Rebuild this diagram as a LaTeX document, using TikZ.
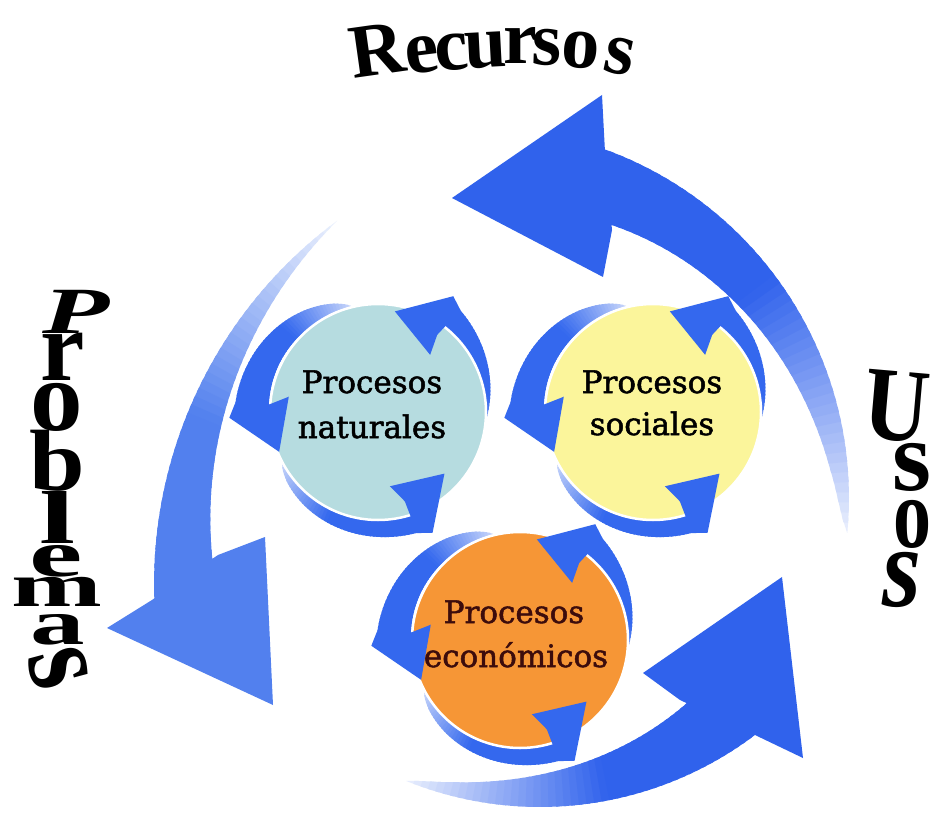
\documentclass[tikz,border=0pt]{standalone}
\usepackage{fontspec}
\setmainfont{Liberation Serif}
\newfontfamily\procfont{DejaVu Serif}[FakeBold=1.6]
\definecolor{bigblue}{RGB}{48,98,236}
\definecolor{leftblue}{RGB}{82,128,238}
\definecolor{smallblue}{RGB}{52,104,238}
\definecolor{natcol}{RGB}{182,220,224}
\definecolor{soccol}{RGB}{251,245,155}
\definecolor{ecocol}{RGB}{246,150,54}
\definecolor{ecotext}{RGB}{60,12,12}
% crescent shaft, outer edge fixed: #1 cx, #2 cy, #3 outer radius, #4 width at head, #5 tail angle, #6 end angle, #7 taper exponent, #8 colour
\newcommand{\shaftarc}[8]{%
  \foreach \i in {0,...,47}{%
    \pgfmathsetmacro{\sA}{(#5)+((#6)-(#5))*\i/48}%
    \pgfmathsetmacro{\sB}{(#5)+((#6)-(#5))*(\i+1.5)/48}%
    \pgfmathsetmacro{\rA}{(#3)-(#4)*((\i+0.01)/48)^(#7)}%
    \pgfmathsetmacro{\rB}{(#3)-(#4)*((\i+1.5)/48)^(#7)}%
    \pgfmathsetmacro{\pc}{min(100,12+160*\i/48)}%
    \fill[#8!\pc!white] ({#1+(#3)*cos(\sA)},{#2-(#3)*sin(\sA)}) -- ({#1+(#3)*cos(\sB)},{#2-(#3)*sin(\sB)}) -- ({#1+\rB*cos(\sB)},{#2-\rB*sin(\sB)}) -- ({#1+\rA*cos(\sA)},{#2-\rA*sin(\sA)}) -- cycle;
  }%
}
% crescent shaft, inner edge fixed: #3 inner radius, #4 width at head
\newcommand{\shaftout}[8]{%
  \foreach \i in {0,...,47}{%
    \pgfmathsetmacro{\sA}{(#5)+((#6)-(#5))*\i/48}%
    \pgfmathsetmacro{\sB}{(#5)+((#6)-(#5))*(\i+1.5)/48}%
    \pgfmathsetmacro{\rA}{(#3)+(#4)*((\i+0.01)/48)^(#7)}%
    \pgfmathsetmacro{\rB}{(#3)+(#4)*((\i+1.5)/48)^(#7)}%
    \pgfmathsetmacro{\pc}{min(100,25+160*\i/48)}%
    \fill[#8!\pc!white] ({#1+(#3)*cos(\sA)},{#2-(#3)*sin(\sA)}) -- ({#1+(#3)*cos(\sB)},{#2-(#3)*sin(\sB)}) -- ({#1+\rB*cos(\sB)},{#2-\rB*sin(\sB)}) -- ({#1+\rA*cos(\sA)},{#2-\rA*sin(\sA)}) -- cycle;
  }%
}
% small cycle arrow: #1 cx, #2 cy, #3 base angle of head
\newcommand{\smallshaft}[3]{\shaftout{#1}{#2}{100}{34}{(#3)-80}{(#3)+1}{0.6}{smallblue}}
\newcommand{\smallhead}[3]{%
  \fill[smallblue] ({#1+134*cos(#3)},{#2-134*sin(#3)}) -- ({#1+140*cos(#3+6)},{#2-140*sin(#3+6)}) -- ({#1+100*cos(#3+28)},{#2-100*sin(#3+28)}) -- ({#1+81*cos(#3-6)},{#2-81*sin(#3-6)}) -- ({#1+100*cos(#3)},{#2-100*sin(#3)}) -- cycle;%
}
\tikzset{
  bigletter/.style={inner sep=0pt, anchor=base, font=\fontsize{100}{100}\selectfont\bfseries},
  recletter/.style={inner sep=0pt, anchor=base, font=\fontsize{76}{76}\selectfont\bfseries},
  proclabel/.style={inner sep=0pt, anchor=base, font=\procfont\fontsize{31}{36}\selectfont},
  disc/.style={circle, inner sep=0pt, minimum size=216pt, draw=white, line width=2.5pt},
}
\begin{document}
\begin{tikzpicture}[x=1pt,y=-1pt]
\fill[white] (0,0) rectangle (934,826);
\useasboundingbox (0,0) rectangle (934,826);
% ---- big cycle ----
\shaftarc{478}{498}{371}{71}{-5.4}{70}{0.7}{bigblue}
\shaftarc{606}{584}{452}{64}{126.5}{182}{1}{leftblue}
\shaftarc{540}{450}{357}{71}{-112}{-53}{0.8}{bigblue}
\fill[bigblue] (605,152) -- (602,95) -- (452,198) -- (603,277) -- (612,230) -- cycle;
\fill[leftblue] (152,600) -- (107,628) -- (273,705) -- (265,537) -- (218,555) -- cycle;
\fill[bigblue] (680,700) -- (643,673) -- (782,577) -- (803,758) -- (755,735) -- cycle;
% ---- small cycles: shafts ----
\foreach \b in {47,178,291}{
  \smallshaft{369}{408}{\b}
  \smallshaft{644}{408}{\b}
  \smallshaft{511}{636}{\b}
}
% ---- discs ----
\node[disc, fill=natcol] (natdisc) at (378,412) {};
\node[disc, fill=soccol] (socdisc) at (653,412) {};
\node[disc, fill=ecocol] (ecodisc) at (520,640) {};
% ---- small cycles: heads ----
\foreach \b in {47,178,291}{
  \smallhead{369}{408}{\b}
  \smallhead{644}{408}{\b}
  \smallhead{511}{636}{\b}
}
% ---- labels in discs ----
\node[proclabel] (nat1) at (372,393) {Procesos};
\node[proclabel] (nat2) at (372,438) {naturales};
\node[proclabel] (soc1) at (652,393) {Procesos};
\node[proclabel] (soc2) at (652,435) {sociales};
\node[proclabel, text=ecotext] (eco1) at (514,623) {Procesos};
\node[proclabel, text=ecotext] (eco2) at (516,667) {económicos};
% ---- Recursos ----
\node[recletter, rotate=8] (rc1) at (381,75) {R};
\node[recletter, rotate=7] (rc2) at (424,72) {e};
\node[recletter, rotate=5] (rc3) at (453,70) {c};
\node[recletter, rotate=3] (rc4) at (487,67) {u};
\node[recletter] (rc5) at (520,64) {r};
\node[recletter, rotate=-2] (rc6) at (546,65) {s};
\node[recletter, rotate=-4] (rc7) at (579,68) {o};
\node[recletter, rotate=-12] (rc8) at (616,74) {s};
% ---- Problemas ----
\node[bigletter, font=\fontsize{100}{100}\selectfont\bfseries\itshape, xscale=1.1, yscale=0.66] (pb1) at (76,333) {P};
\node[bigletter] (pb2) at (63,380) {r};
\node[bigletter, xscale=1.05] (pb3) at (57,430) {o};
\node[bigletter, yscale=0.87] (pb4) at (57,490) {b};
\node[bigletter, xscale=1.3, yscale=0.75] (pb5) at (58,543) {l};
\node[bigletter, xscale=1.2, yscale=0.66] (pb6) at (56,576) {e};
\node[bigletter, xscale=1.09, yscale=0.62] (pb7) at (57,606) {m};
\node[bigletter, xscale=1.09, yscale=0.64] (pb8) at (58,644) {a};
\node[bigletter, anchor=center, rotate=-75, yscale=1.2] (pb9) at (58,668) {s};
% ---- Usos ----
\node[bigletter, anchor=center, rotate=-5, xscale=0.9, yscale=1.05] (us1) at (897,407) {U};
\node[bigletter] (us2) at (912,490) {s};
\node[bigletter, xscale=0.76] (us3) at (912,547) {o};
\node[bigletter, font=\fontsize{100}{100}\selectfont\bfseries\itshape, yscale=1.15] (us4) at (902,606) {s};
\end{tikzpicture}
\end{document}
